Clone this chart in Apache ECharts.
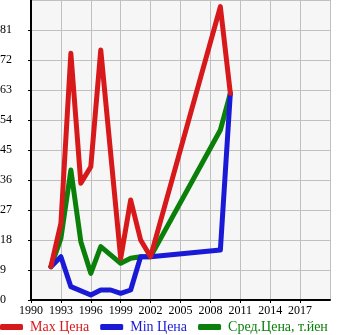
<!DOCTYPE html>
<html>
<head>
<meta charset="utf-8">
<script src="https://cdn.jsdelivr.net/npm/echarts@6/dist/echarts.min.js"></script>
<style>
  html, body { margin: 0; padding: 0; background: #fff; }
  #chart { width: 345px; height: 335px; }
</style>
</head>
<body>
<div id="chart"></div>
<script>
// Price history by year (thousand yen)
const years   = [1992, 1993, 1994, 1995, 1996, 1997, 1998, 1999, 2000, 2001, 2002, 2009, 2010];
const maxPrice = [10, 23, 74, 35, 40, 75, null, 12.5, 30, 18, 13, 88, 62];
const minPrice = [10, 13, 4, null, 1.5, 3, 3, 2, 3, 13, 13, 15, 62];
const avgPrice = [10, 18.5, 39, 17.5, 8, 16, null, 11, 12.5, 13, 13, 51, 62];

const seriesNames = ['Max Цена', 'Min Цена', 'Сред.Цена, т.йен'];
const seriesColors = ['#d7191c', '#1a1ad6', '#0a800a'];

function pairs(vals) {
  const out = [];
  years.forEach((y, i) => { if (vals[i] !== null) out.push([y, vals[i]]); });
  return out;
}

const font = 'Liberation Serif';
const chart = echarts.init(document.getElementById('chart'), null, { renderer: 'canvas' });

chart.setOption({
  animation: false,
  backgroundColor: '#ffffff',
  textStyle: { fontFamily: font },
  grid: {
    left: 31, right: 15, top: 0, bottom: 35,
    outerBoundsMode: 'none', containLabel: false,
    show: true, backgroundColor: '#f6f6f6', borderWidth: 0
  },
  legend: {
    left: 0, bottom: 0, padding: [0, 0, 1, 0],
    itemWidth: 23, itemHeight: 6, itemGap: 11,
    icon: 'roundRect',
    textStyle: { fontFamily: font, fontSize: 14, padding: [0, 0, 0, 2] },
    data: seriesNames.map((n, i) => ({ name: n, textStyle: { color: seriesColors[i] } }))
  },
  xAxis: {
    type: 'value', min: 1990, max: 2020, interval: 3,
    axisLine: { onZero: false, lineStyle: { color: '#000', width: 2 } },
    axisTick: { show: true, length: 3, lineStyle: { color: '#000', width: 1 } },
    splitLine: { show: true, lineStyle: { color: '#c0c0c0', width: 1 } },
    axisLabel: {
      fontFamily: font, fontSize: 12, color: '#000', margin: 5,
      showMaxLabel: false,
      formatter: v => String(v)
    }
  },
  yAxis: {
    type: 'value', min: 0, max: 90, interval: 9,
    axisLine: { show: true, lineStyle: { color: '#000', width: 2 } },
    axisTick: { show: true, length: 3, lineStyle: { color: '#000', width: 1 } },
    splitLine: { show: true, lineStyle: { color: '#c0c0c0', width: 1 } },
    axisLabel: {
      fontFamily: font, fontSize: 12, color: '#000',
      align: 'left', margin: 31, padding: [0, 0, 6, 0],
      showMaxLabel: false
    }
  },
  series: [maxPrice, minPrice, avgPrice].map((vals, i) => ({
    name: seriesNames[i],
    type: 'line',
    data: pairs(vals),
    showSymbol: false,
    symbol: 'none',
    lineStyle: { color: seriesColors[i], width: 5, cap: 'round', join: 'round' },
    itemStyle: { color: seriesColors[i] },
    z: 3 - i
  }))
});
</script>
</body>
</html>
